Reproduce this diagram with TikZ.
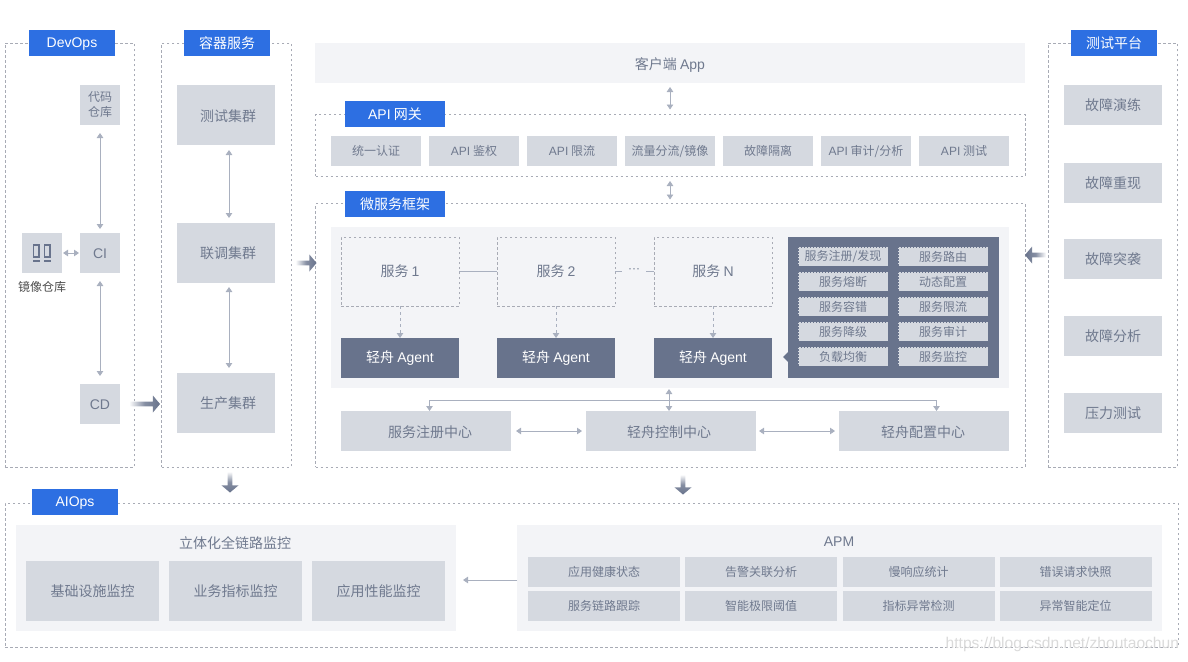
\documentclass[tikz,border=0pt]{standalone}
\usepackage{fontspec}
\setmainfont{Noto Sans CJK SC}
\newfontfamily\latinf{Liberation Sans}
\newcommand{\lowered}[1]{\raisebox{-0.7pt}[\height][\depth]{#1}}
\usetikzlibrary{positioning, calc, arrows.meta, shapes.arrows}

\definecolor{tagblue}{HTML}{2D6FE2}
\definecolor{boxgray}{HTML}{D5D9E0}
\definecolor{panelgray}{HTML}{F3F4F7}
\definecolor{slate}{HTML}{68738C}
\definecolor{labelgray}{HTML}{6F798E}
\definecolor{linegray}{HTML}{A9B0BF}
\definecolor{dashgray}{HTML}{A8ABB5}
\definecolor{markgray}{HTML}{DADADA}

\tikzset{
    base/.style={inner sep=0pt, outer sep=0pt, align=center, text=labelgray, font=\fontsize{14}{16}\selectfont},
    panel/.style={base, anchor=north west, draw=dashgray, line width=0.6pt, dash pattern=on 2.5pt off 2.5pt},
    tag/.style={base, fill=tagblue, text=white, minimum width=86pt, minimum height=26pt},
    block/.style={base, fill=boxgray, minimum width=98pt},
    apibox/.style={base, fill=boxgray, minimum width=90pt, minimum height=30pt, font=\fontsize{12}{14}\selectfont},
    apmbox/.style={base, fill=boxgray, minimum width=152pt, minimum height=30pt, font=\fontsize{12}{14}\selectfont},
    svc/.style={base, draw=dashgray, line width=0.6pt, dash pattern=on 2.5pt off 2.5pt, minimum width=118pt, minimum height=69pt},
    agent/.style={base, fill=slate, text=white, minimum width=118pt, minimum height=40pt},
    feat/.style={base, fill=boxgray, draw=slate, line width=0.5pt, dash pattern=on 1.5pt off 1.5pt, minimum width=90pt, minimum height=19pt, font=\fontsize{12}{14}\selectfont},
    twoway/.style={draw=linegray, line width=0.8pt, {Triangle[length=5pt,width=6.5pt]}-{Triangle[length=5pt,width=6.5pt]}},
    oneway/.style={draw=linegray, line width=0.8pt, -{Triangle[length=5pt,width=6.5pt]}},
    flow/.style={single arrow, inner xsep=0pt, inner ysep=2pt, outer sep=0pt, minimum width=17pt, single arrow head extend=5.5pt, single arrow tip angle=100},
    flowright/.style={flow, left color=white, right color=slate, middle color=slate!80},
    flowleft/.style={flow, shape border rotate=180, left color=slate, right color=white, middle color=slate!80},
    flowdown/.style={flow, shape border rotate=270, inner xsep=2pt, inner ysep=0pt, top color=white, bottom color=slate, middle color=slate!80},
}

\begin{document}
\begin{tikzpicture}[x=1pt, y=-1pt]
\useasboundingbox (0,0) rectangle (1188,661);

% Panels
\node [panel, minimum width=129.4pt, minimum height=424pt] (devops) at (5,43) {};
\node [panel, minimum width=129.4pt, minimum height=424pt] (container) at (161.5,43) {};
\node [panel, minimum width=129.4pt, minimum height=424pt] (testing) at (1048,43) {};
\node [panel, minimum width=709.5pt, minimum height=61.5pt] (gateway) at (315.5,114.5) {};
\node [panel, minimum width=709.5pt, minimum height=263.5pt] (framework) at (315.5,203.5) {};
\node [panel, minimum width=1173pt, minimum height=144pt] (aiops) at (5,503) {};

\node [tag] (devopstag) at (72,43) {\lowered{\latinf DevOps}};
\node [tag] (containertag) at (227,43) {容器服务};
\node [tag] (testingtag) at (1114,43) {测试平台};
\node [tag, minimum width=100pt] (gatewaytag) at (395,114) {{\latinf API} 网关};
\node [tag, minimum width=100pt] (frameworktag) at (395,204) {微服务框架};
\node [tag] (aiopstag) at (75,502) {\lowered{\latinf AIOps}};

% DevOps
\node [block, minimum width=40pt, minimum height=40pt, font=\fontsize{12}{15}\selectfont] (repo) at (100,105) {代码\\仓库};
\node [block, minimum width=40pt, minimum height=40pt] (ci) at (100,253) {\lowered{\latinf CI}};
\node [block, minimum width=40pt, minimum height=40pt] (mirror) at (42,253) {};
\node [block, minimum width=40pt, minimum height=40pt] (cd) at (100,404) {\lowered{\latinf CD}};
\node [base, below=8pt of mirror, text=black!70, font=\fontsize{12}{14}\selectfont] (mirrorlabel) {镜像仓库};
\draw [slate, line width=1.2pt] ([shift={(-8.5,-8)}]mirror.center) rectangle ([shift={(-3,4)}]mirror.center);
\draw [slate, line width=1.2pt] ([shift={(2.5,-8)}]mirror.center) rectangle ([shift={(8,4)}]mirror.center);
\draw [slate, line width=1.5pt] ([shift={(-9,8)}]mirror.center) -- ([shift={(-2.5,8)}]mirror.center);
\draw [slate, line width=1.5pt] ([shift={(2,8)}]mirror.center) -- ([shift={(8.5,8)}]mirror.center);

% Clusters
\node [block, minimum height=60pt] (testc) at (226,115) {\hspace*{4pt}\lowered{测试集群}};
\node [block, minimum height=60pt] (jointc) at (226,253) {\hspace*{4pt}\lowered{联调集群}};
\node [block, minimum height=60pt] (prodc) at (226,403) {\hspace*{4pt}\lowered{生产集群}};

% Client and gateway
\node [base, anchor=north west, fill=panelgray, minimum width=710pt, minimum height=40pt] (client) at (315,43) {\raisebox{-2pt}[\height][\depth]{客户端 {\latinf App}}};
\node [apibox] (auth) at (376,151) {统一认证};
\node [apibox, right=8pt of auth] (sign) {{\latinf API} 鉴权};
\node [apibox, right=8pt of sign] (limit) {{\latinf API} 限流};
\node [apibox, right=8pt of limit] (mirrorflow) {流量分流/镜像};
\node [apibox, right=8pt of mirrorflow] (isolate) {故障隔离};
\node [apibox, right=8pt of isolate] (audit) {{\latinf API} 审计/分析};
\node [apibox, right=8pt of audit] (apitest) {{\latinf API} 测试};

% Framework
\node [base, anchor=north west, fill=panelgray, minimum width=678pt, minimum height=161pt] (inner) at (331,227) {};
\node [svc] (svc1) at (400,271.5) {服务 {\latinf 1}};
\node [svc] (svc2) at (556,271.5) {服务 {\latinf 2}};
\node [svc] (svcn) at (713,271.5) {服务 {\latinf N}};
\node [agent] (agent1) at (400,358) {轻舟 {\latinf Agent}};
\node [agent] (agent2) at (556,358) {轻舟 {\latinf Agent}};
\node [agent] (agentn) at (713,358) {轻舟 {\latinf Agent}};
\node [base, font=\fontsize{12}{14}\selectfont] (dots) at (634,271) {\latinf ···};

\node [base, anchor=north west, fill=slate, minimum width=211pt, minimum height=141pt] (features) at (788,237) {};
\fill [slate] (features.south west) ++(0,-16) -- ++(-5,-5) -- ++(5,-5) -- cycle;
\node [feat] (f1) at (843,256.5) {服务注册/发现};
\node [feat, below=6pt of f1] (f2) {服务熔断};
\node [feat, below=6pt of f2] (f3) {服务容错};
\node [feat, below=6pt of f3] (f4) {服务降级};
\node [feat, below=6pt of f4] (f5) {负载均衡};
\node [feat, right=10pt of f1] (g1) {服务路由};
\node [feat, below=6pt of g1] (g2) {动态配置};
\node [feat, below=6pt of g2] (g3) {服务限流};
\node [feat, below=6pt of g3] (g4) {服务审计};
\node [feat, below=6pt of g4] (g5) {服务监控};

\node [block, minimum width=170pt, minimum height=40pt] (reg) at (426,431) {\hspace*{8pt}\lowered{服务注册中心}};
\node [block, minimum width=170pt, minimum height=40pt] (ctrl) at (671,431) {\lowered{轻舟控制中心}\hspace*{4pt}};
\node [block, minimum width=170pt, minimum height=40pt] (conf) at (924,431) {\lowered{轻舟配置中心}\hspace*{2pt}};
\coordinate (bus) at (669,400);

% Testing platform
\node [block, minimum height=40pt] (drill) at (1113,105) {故障演练};
\node [block, minimum height=40pt] (replay) at (1113,183) {故障重现};
\node [block, minimum height=40pt] (burst) at (1113,259) {故障突袭};
\node [block, minimum height=40pt] (analysis) at (1113,336) {故障分析};
\node [block, minimum height=40pt] (stress) at (1113,413) {压力测试};

% AIOps
\node [base, anchor=north west, fill=panelgray, minimum width=440pt, minimum height=106pt] (fullstack) at (16,525) {};
\node [base, anchor=north west, fill=panelgray, minimum width=645pt, minimum height=106pt] (apm) at (517,525) {};
\node [base] (fulltitle) at (235,543) {立体化全链路监控};
\node [base] (apmtitle) at (839,541) {\lowered{\latinf APM}};
\node [block, minimum width=133pt, minimum height=60pt] (infra) at (92.5,591) {基础设施监控};
\node [block, minimum width=133pt, minimum height=60pt, right=10pt of infra] (biz) {业务指标监控};
\node [block, minimum width=133pt, minimum height=60pt, right=10pt of biz] (perf) {应用性能监控};

\node [apmbox] (health) at (604,571.5) {应用健康状态};
\node [apmbox, right=5pt of health] (alarm) {告警关联分析};
\node [apmbox, right=5.5pt of alarm] (slow) {慢响应统计};
\node [apmbox, right=5pt of slow] (snap) {错误请求快照};
\node [apmbox, below=4.5pt of health] (trace) {服务链路跟踪};
\node [apmbox, below=4.5pt of alarm] (limitv) {智能极限阈值};
\node [apmbox, below=4.5pt of slow] (detect) {指标异常检测};
\node [apmbox, below=4.5pt of snap] (locate) {异常智能定位};

\node [base, anchor=south east, text=markgray, font=\fontsize{15.6}{17}\selectfont] (mark) at (1179,652) {\latinf https://blog.csdn.net/zhoutaochun};

% Lines
\draw [twoway, shorten <=8pt, shorten >=4pt] (repo) -- (ci);
\draw [twoway, shorten <=8pt, shorten >=8pt] (ci) -- (cd);
\draw [twoway, shorten <=1pt, shorten >=1pt] (mirror) -- (ci);
\draw [twoway, shorten <=5pt, shorten >=5pt] ([xshift=3pt]testc.south) -- ([xshift=3pt]jointc.north);
\draw [twoway, shorten <=4pt, shorten >=5pt] ([xshift=3pt]jointc.south) -- ([xshift=3pt]prodc.north);
\draw [twoway, shorten <=4pt, shorten >=5pt] (client.south) -- (gateway.north -| client.south);
\draw [twoway, shorten <=5pt, shorten >=4pt] (gateway.south -| client.south) -- (framework.north -| client.south);
\draw [oneway, dashed] (svc1) -- (agent1);
\draw [oneway, dashed] (svc2) -- (agent2);
\draw [oneway, dashed] (svcn) -- (agentn);
\draw [draw=linegray, line width=0.8pt] (svc1) -- (svc2);
\draw [draw=linegray, line width=0.8pt] (svc2.east) -- ([xshift=7pt]svc2.east);
\draw [draw=linegray, line width=0.8pt] (svcn.west) -- ([xshift=-8pt]svcn.west);
\draw [oneway] (bus) -| ([xshift=3.5pt]reg.north);
\draw [oneway] (bus) -| ([xshift=12.5pt]conf.north);
\draw [twoway, shorten <=1pt] (inner.south -| bus) -- (ctrl.north -| bus);
\draw [twoway, shorten <=5pt, shorten >=4pt] (reg) -- (ctrl);
\draw [twoway, shorten <=3pt, shorten >=4pt] (ctrl) -- (conf);
\draw [oneway, shorten >=7pt] (apm.west |- 0,580) -- (fullstack.east |- 0,580);

% Big arrows
\node [flowright, minimum height=31pt] (cdflow) at (143.5,404) {};
\node [flowright, minimum height=21pt] (containerflow) at (305,263) {};
\node [flowleft, minimum height=21pt] (testingflow) at (1036.5,255) {};
\node [flowdown, minimum width=17pt, minimum height=21pt] (downflow1) at (230,481) {};
\node [flowdown, minimum width=17pt, minimum height=20pt] (downflow2) at (683,483.5) {};

\end{tikzpicture}
\end{document}
